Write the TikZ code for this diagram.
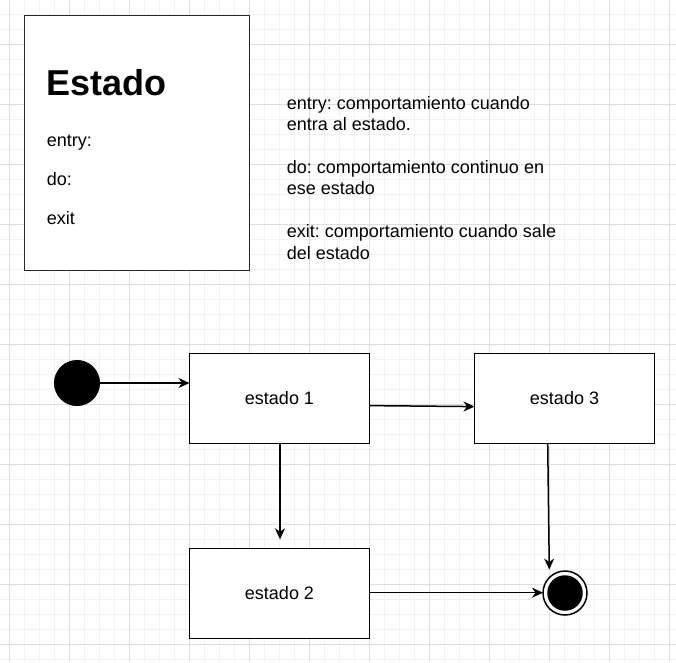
\documentclass[tikz,border=0pt]{standalone}
\usepackage{fontspec}
\setmainfont{Liberation Sans}
\usetikzlibrary{arrows.meta}
\definecolor{gridmajor}{RGB}{221,221,221}
\definecolor{gridminor}{RGB}{242,242,242}
\definecolor{boxline}{RGB}{40,40,40}
\frenchspacing
\begin{document}
\begin{tikzpicture}[x=1pt,y=-1pt,
  body/.style={font=\fontsize{18}{21.5}\selectfont\frenchspacing, inner sep=0pt, anchor=base west},
  statebox/.style={draw=black, line width=1.5pt, fill=white, minimum width=180pt, minimum height=90pt, inner sep=0pt, outer sep=0pt, font=\fontsize{18}{21.5}\selectfont},
  arr/.style={draw=black, line width=1.5pt, -{Stealth[length=11pt,width=10pt,inset=3.5pt]}},
]
\useasboundingbox (0,0) rectangle (676,662);
\fill[white] (0,0) rectangle (676,662);
% minor grid
\foreach \i in {0,...,45} {\draw[gridminor, line width=1pt] ({9.3+15*\i},0) -- ({9.3+15*\i},662);}
\foreach \i in {0,...,44} {\draw[gridminor, line width=1pt] (0,{14+15*\i}) -- (676,{14+15*\i});}
% major grid
\foreach \i in {0,...,11} {\draw[gridmajor, line width=1pt] ({9.3+60*\i},0) -- ({9.3+60*\i},662);}
\foreach \i in {0,...,11} {\draw[gridmajor, line width=1pt] (0,{44+60*\i}) -- (676,{44+60*\i});}

% legend box
\node[draw=boxline, line width=1.5pt, fill=white, minimum width=225pt, minimum height=255pt, inner sep=0pt] (legend) at (137,143) {};
\node[font=\fontsize{36}{43}\selectfont\bfseries, inner sep=0pt, anchor=base west] (ltitle) at (46.7,95.7) {Estado};
\node[body] (lentry) at (46.7,146) {entry:};
\node[body] (ldo) at (46.7,185) {do:};
\node[body] (lexit) at (46.7,224) {exit};

% explanation text
\node[body] (t1) at (286.7,109) {entry: comportamiento cuando};
\node[body] (t2) at (286.7,130.3) {entra al estado.};
\node[body] (t3) at (286.7,173.3) {do: comportamiento continuo en};
\node[body] (t4) at (286.7,194.3) {ese estado};
\node[body] (t5) at (286.7,237.7) {exit: comportamiento cuando sale};
\node[body] (t6) at (286.7,259) {del estado};

% states
\node[circle, fill=black, draw=black, line width=1pt, minimum size=45pt, inner sep=0pt] (init) at (77,383) {};
\node[statebox] (s1) at (279.5,398.3) {estado 1};
\node[statebox] (s3) at (564.5,398.3) {estado 3};
\node[statebox] (s2) at (279.5,593.3) {estado 2};
\node[circle, draw=black, line width=1.5pt, fill=white, minimum size=44pt, inner sep=0pt, outer sep=0pt] (fin) at (565,593) {};
\node[circle, fill=black, minimum size=35.5pt, inner sep=0pt] (fininner) at (fin.center) {};

% transitions
\draw[arr] (init.east) -- (init -| s1.west);
\draw[arr] ([yshift=-7.3pt]s1.east) -- ([yshift=-8.3pt]s3.west);
\draw[arr] ([xshift=0.5pt]s1.south) -- ([xshift=0.5pt,yshift=9pt]s2.north);
\draw[arr] ([xshift=-16.8pt]s3.south) -- ([xshift=-15.7pt,yshift=23.5pt]fin.center);
\draw[arr] ([yshift=0.6pt]s2.east) -- ([yshift=0.3pt]fin.west);
\end{tikzpicture}
\end{document}
